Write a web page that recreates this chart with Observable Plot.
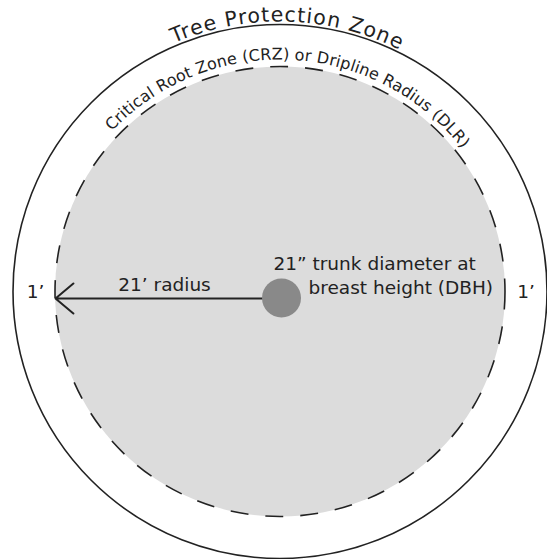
<!DOCTYPE html>
<html>
<head>
<meta charset="utf-8">
<script src="https://cdn.jsdelivr.net/npm/d3@7"></script>
<script src="https://cdn.jsdelivr.net/npm/@observablehq/plot@0.6"></script>
<style>
  html, body { margin: 0; padding: 0; background: #fff; }
  #chart svg { display: block; }
</style>
</head>
<body>
<div id="chart"></div>
<script>
// Schematic diagram data (diagram units, centre of the tree at 0,0)
const zoneNames = ["Tree Protection Zone", "Critical Root Zone (CRZ) or Dripline Radius (DLR)"];
const zoneRadii = [267, 225];
const zoneLabelRadii = [269.5, 231.5];
const zoneLabelAngles = [1.65, 2.85];      // degrees from top, clockwise
const zoneLabelSpans = [49.5, 98.5];       // degrees covered by label

const trunkLabel = ["21\u201D trunk diameter at", "breast height (DBH)"];
const trunkX = [1.5];
const trunkY = [-6.5];
const trunkR = [19.5];

const radiusLabel = ["21\u2019 radius"];
const bufferLabels = ["1\u2019", "1\u2019"];

const arrowFrom = [-17.5];
const arrowTo = [-224.5];
const arrowY = [-7];

const FONT = "'DejaVu Sans', Lato, sans-serif";
const INK = "#222";

const rings = zoneNames.map((name, i) => ({name, r: zoneRadii[i], lr: zoneLabelRadii[i], a: zoneLabelAngles[i], span: zoneLabelSpans[i]}));
const trunk = trunkX.map((x, i) => ({x, y: trunkY[i], r: trunkR[i]}));
const arrows = arrowFrom.map((x1, i) => ({x1, x2: arrowTo[i], y: arrowY[i]}));

const centredText = [
  {text: radiusLabel[0], x: -115.5, y: 6.9},
  {text: bufferLabels[0], x: -244.5, y: -0.1},
  {text: bufferLabels[1], x: 246, y: -0.1}
];
const startText = [
  {text: trunkLabel[0], x: -6.5, y: 27.9},
  {text: trunkLabel[1], x: 28.5, y: 3.9}
];

function curvedLabels(index, scales) {
  const g = d3.create("svg:g");
  const cx = scales.x(0), cy = scales.y(0);
  rings.forEach((d, i) => {
    const R = scales.x(d.lr) - scales.x(0);
    const a0 = (d.a - 89) * Math.PI / 180, a1 = (d.a + 89) * Math.PI / 180;
    const p0 = [cx + R * Math.sin(a0), cy - R * Math.cos(a0)];
    const p1 = [cx + R * Math.sin(a1), cy - R * Math.cos(a1)];
    const id = "ringpath" + i;
    g.append("path").attr("id", id).attr("fill", "none")
      .attr("d", `M${p0[0]},${p0[1]} A${R},${R} 0 0 1 ${p1[0]},${p1[1]}`);
    const len = R * d.span * Math.PI / 180;
    g.append("text")
      .attr("font-family", FONT)
      .attr("font-size", i === 0 ? 20.5 : 16)
      .attr("fill", INK)
      .append("textPath")
      .attr("href", "#" + id)
      .attr("startOffset", "50%")
      .attr("text-anchor", "middle")
      .attr("textLength", len)
      .attr("lengthAdjust", "spacing")
      .text(d.name);
  });
  return g.node();
}

const chart = Plot.plot({
  width: 547,
  height: 559,
  margin: 0,
  x: {domain: [-279.5, 267.5], axis: null},
  y: {domain: [-268, 291], axis: null},
  r: {type: "identity"},
  marks: [
    Plot.dot(rings.slice(0, 1), {x: () => 0, y: () => 0, r: "r", fill: "none", stroke: INK, strokeWidth: 1.6}),
    Plot.dot(rings.slice(1), {x: () => 0, y: () => 0, r: "r", fill: "#dcdcdc", stroke: INK, strokeWidth: 1.6, strokeDasharray: "18,17"}),
    Plot.arrow(arrows, {x1: "x1", x2: "x2", y1: "y", y2: "y", stroke: INK, strokeWidth: 2, headLength: 17.5, headAngle: 80}),
    Plot.dot(trunk, {x: "x", y: "y", r: "r", fill: "#898989", stroke: "none"}),
    Plot.text(centredText, {x: "x", y: "y", text: "text", textAnchor: "middle", fontSize: 18.5, fontFamily: FONT, fill: INK}),
    Plot.text(startText, {x: "x", y: "y", text: "text", textAnchor: "start", fontSize: 18.5, fontFamily: FONT, fill: INK}),
    curvedLabels
  ]
});
document.getElementById("chart").append(chart);
</script>
</body>
</html>
